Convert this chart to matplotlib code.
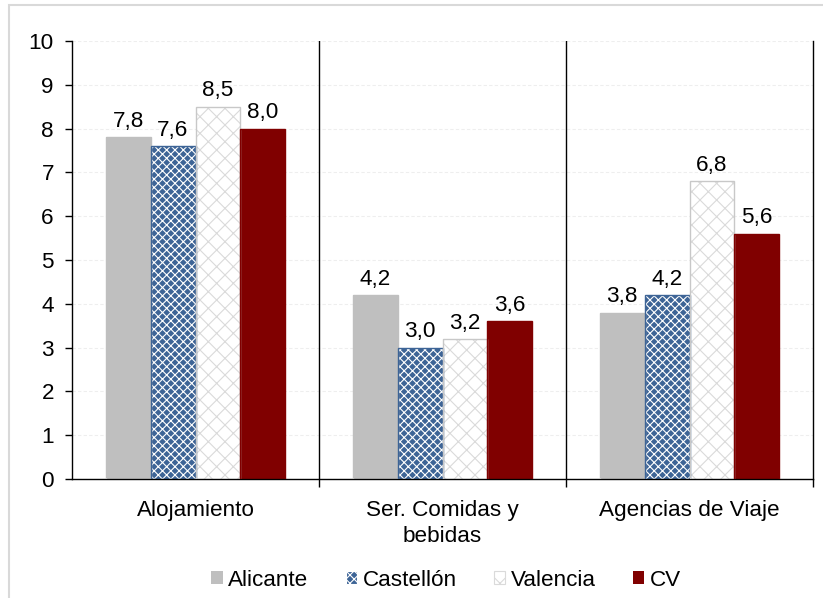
import matplotlib
matplotlib.use("Agg")
import matplotlib.pyplot as plt
from matplotlib.patches import Rectangle
import numpy as np

plt.rcParams['font.family'] = ['Liberation Sans', 'DejaVu Sans']
plt.rcParams['hatch.linewidth'] = 0.8

categories = ["Alojamiento", "Ser. Comidas y\nbebidas", "Agencias de Viaje"]
series = ["Alicante", "Castellón", "Valencia", "CV"]
alicante = [7.8, 4.2, 3.8]
castellon = [7.6, 3.0, 4.2]
valencia = [8.5, 3.2, 6.8]
cv = [8.0, 3.6, 5.6]
yticks = [0, 1, 2, 3, 4, 5, 6, 7, 8, 9, 10]

FS = 16.2

fig = plt.figure(figsize=(8.23, 5.98), dpi=100)
fig.patches.append(Rectangle((9/823, -0.01), 1.0, 1 - 5/598 + 0.01, transform=fig.transFigure,
                             fill=False, edgecolor='#D9D9D9', linewidth=1.5))
ax = fig.add_axes([72/823, 1 - 479/598, (813 - 72)/823, (479 - 41)/598])

x = np.arange(len(categories))
w = 0.182
offs = np.array([-1.5, -0.5, 0.5, 1.5]) * w

styles = [
    dict(facecolor='#BFBFBF', edgecolor='#BFBFBF', hatch=None),
    dict(facecolor='#3D6496', edgecolor='white', hatch='xxxx'),
    dict(facecolor='white', edgecolor='#DADADA', hatch='xx'),
    dict(facecolor='#800000', edgecolor='#800000', hatch=None),
]
outline = ['#BFBFBF', '#3D6496', '#C8C8C8', '#800000']
data = [alicante, castellon, valencia, cv]

handles = []
for i, (vals, st) in enumerate(zip(data, styles)):
    ax.bar(x + offs[i], vals, w, facecolor=st['facecolor'], edgecolor=st['edgecolor'],
           hatch=st['hatch'], linewidth=0, zorder=2)
    ax.bar(x + offs[i], vals, w, facecolor='none', edgecolor=outline[i], linewidth=1.0, zorder=3)
    handles.append(Rectangle((0, 0), 1, 1, facecolor=st['facecolor'],
                             edgecolor=st['edgecolor'] if st['hatch'] else outline[i],
                             hatch=st['hatch'], linewidth=0.8 if st['hatch'] else 0))
    for xi, v in zip(x + offs[i], vals):
        ax.text(xi, v + 0.12, f"{v:.1f}".replace('.', ','), ha='center', va='bottom',
                fontsize=FS, color='black', zorder=4)

ax.set_xlim(-0.5, 2.5)
ax.set_ylim(0, 10)
ax.set_yticks(yticks)
ax.set_yticklabels([str(t) for t in yticks], fontsize=FS)
ax.tick_params(axis='y', length=5, width=1, direction='out', pad=8)

ax.set_xticks([0.5, 1.5, 2.5])
ax.set_xticklabels([])
ax.tick_params(axis='x', length=6, width=1, direction='out')
ax.set_xticks(x, minor=True)
ax.set_xticklabels(categories, minor=True, fontsize=FS, linespacing=1.35)
ax.tick_params(axis='x', which='minor', length=0, pad=15)

for sx in [0.5, 1.5]:
    ax.axvline(sx, color='black', linewidth=1, zorder=1)

ax.grid(axis='y', color='#EEEEEE', linestyle=(0, (3, 2)), linewidth=0.8, zorder=0)
ax.set_axisbelow(True)

ax.spines['top'].set_visible(False)
for s in ['left', 'right', 'bottom']:
    ax.spines[s].set_color('black')
    ax.spines[s].set_linewidth(1)

fig.legend(handles, series, loc='center', bbox_to_anchor=(446/823, 1 - 580/598), ncol=4,
           frameon=False, fontsize=FS, handlelength=0.5, handleheight=0.5,
           handletextpad=0.25, columnspacing=1.65)

fig.savefig('out.png', dpi=100)
